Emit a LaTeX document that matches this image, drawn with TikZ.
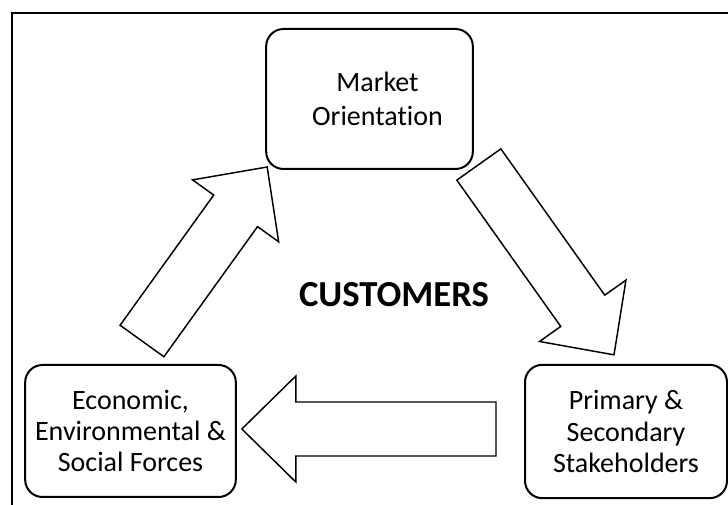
\documentclass[tikz,border=0pt]{standalone}
\usepackage{fontspec}
\setmainfont{Carlito}[Ligatures=NoCommon]
\usetikzlibrary{calc}

\tikzset{
  box/.style={draw, line width=1.5pt, rounded corners=13pt, align=center,
    inner sep=0pt, font=\fontsize{21}{23.5}\selectfont},
  bigarrow/.style={draw, line width=1.1pt, fill=white, line join=miter},
}

% block arrow from tail #1 to tip #2
\newcommand{\blockarrow}[2]{
  \coordinate (hb) at ($(#2)!40.5pt!(#1)$);
  \draw[bigarrow] ($(#1)!20.25pt!90:(#2)$) -- ($(hb)!20.25pt!90:(#2)$)
    -- ($(hb)!39.75pt!90:(#2)$) -- (#2) -- ($(hb)!39.75pt!-90:(#2)$)
    -- ($(hb)!20.25pt!-90:(#2)$) -- ($(#1)!20.25pt!-90:(#2)$) -- cycle;
}

\begin{document}
\begin{tikzpicture}[x=0.75pt, y=-0.75pt]
  \useasboundingbox (0,0) rectangle (728,505);
  \draw[line width=1.5pt] (728,13) -- (12,13) -- (12,505);

  \node[box, minimum width=155pt, minimum height=105pt] (market) at (369.5,99)
    {\hspace*{12pt}Market\\[1.5pt]\hspace*{12pt}Orientation};
  \node[box, minimum width=151.5pt, minimum height=100pt] (primary) at (626,431.5)
    {Primary \&\\Secondary\\Stakeholders};
  \node[box, minimum width=158pt, minimum height=99pt] (econ) at (130.5,431)
    {Economic,\\Environmental \&\\Social Forces};

  \node[font=\fontsize{27.5}{30}\selectfont\bfseries] (cust) at (394,295) {CUSTOMERS};

  \coordinate (upT) at ($(econ.north)+(11.5,-23)$);
  \coordinate (upH) at ($(market.south west)+(2,-3)$);
  \coordinate (dnT) at ($(market.south east)+(5,-5.5)$);
  \coordinate (dnH) at ($(primary.north)+(-12,-9)$);
  \coordinate (ltT) at ($(primary.west)+(-28,-2.5)$);
  \coordinate (ltH) at ($(econ.east)+(5,-2)$);

  \blockarrow{upT}{upH}
  \blockarrow{dnT}{dnH}
  \blockarrow{ltT}{ltH}
\end{tikzpicture}
\end{document}
